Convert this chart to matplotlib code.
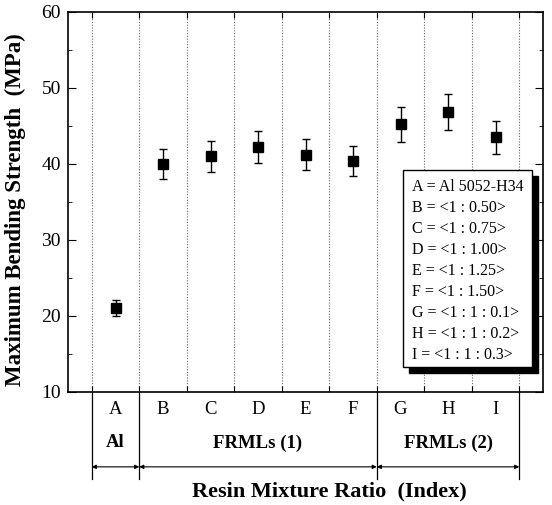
import numpy as np
import matplotlib
matplotlib.use("Agg")
import matplotlib.pyplot as plt
from matplotlib.patches import Rectangle
from matplotlib.transforms import blended_transform_factory

plt.rcParams['font.family'] = ['Liberation Serif', 'DejaVu Serif']

# data
labels = ['A', 'B', 'C', 'D', 'E', 'F', 'G', 'H', 'I']
strength = [21.1, 40.0, 41.0, 42.2, 41.2, 40.4, 45.2, 46.8, 43.5]
err = [1.05, 2.0, 2.05, 2.1, 2.05, 2.0, 2.25, 2.35, 2.15]

groups = ['Al', 'FRMLs (1)', 'FRMLs (2)']
group_edges = [(0.5, 1.5), (1.5, 6.5), (6.5, 9.5)]

legend_lines = ['A = Al 5052-H34', 'B = <1 : 0.50>', 'C = <1 : 0.75>',
                'D = <1 : 1.00>', 'E = <1 : 1.25>', 'F = <1 : 1.50>',
                'G = <1 : 1 : 0.1>', 'H = <1 : 1 : 0.2>', 'I = <1 : 1 : 0.3>']

x = np.arange(1, len(labels) + 1)

fig = plt.figure(figsize=(5.52, 5.05), dpi=100)
ax = fig.add_axes([68/552, 1 - 392/505, 475/552, 380/505])

# dotted separators between samples
for b in np.arange(0.5, 10, 1.0):
    ax.axvline(b, color='0.4', ls=(0, (1, 1.5)), lw=0.8, zorder=1)

ax.errorbar(x, strength, yerr=err, fmt='s', color='black', ms=6.5,
            capsize=3, elinewidth=1, capthick=1, zorder=3)

ax.set_xlim(0, 10)
ax.set_ylim(10, 60)
ax.set_yticks(np.arange(10, 61, 10))
ax.set_yticks(np.arange(15, 60, 10), minor=True)
ax.set_xticks(np.arange(0.5, 10, 1.0))
ax.set_xticklabels([])
ax.tick_params(axis='both', which='both', direction='in', top=True, right=True)
ax.tick_params(axis='y', which='major', length=6, labelsize=14, pad=5)
ax.tick_params(axis='y', which='minor', length=3)
ax.tick_params(axis='x', which='major', length=4)
for s in ax.spines.values():
    s.set_linewidth(1.2)

ax.set_ylabel('Maximum Bending Strength  (MPa)', fontsize=16.5, fontweight='bold')
ax.yaxis.set_label_coords(-0.088, 0.48)

# table under the axis
tr = blended_transform_factory(ax.transData, ax.transAxes)
for b in [0.5, 1.5, 6.5, 9.5]:
    ax.plot([b, b], [0, -0.23], transform=tr, color='black', lw=0.9, clip_on=False)
for xi, lab in zip(x, labels):
    ax.text(xi, -0.047, lab, transform=tr, ha='center', va='center', fontsize=13.5)
for (a, b), g in zip(group_edges, groups):
    ax.text((a + b) / 2, -0.134, g, transform=tr, ha='center', va='center',
            fontsize=13.5, fontweight='bold')
    ax.annotate('', xy=(a, -0.197), xytext=(b, -0.197), xycoords=tr, textcoords=tr,
                arrowprops=dict(arrowstyle='<|-|>', color='black', lw=0.8,
                                mutation_scale=6, shrinkA=0, shrinkB=0),
                annotation_clip=False)
ax.text((329 - 68) / 475, -0.262, 'Resin Mixture Ratio  (Index)', transform=ax.transAxes,
        ha='center', va='center', fontsize=16, fontweight='bold')

# legend box with shadow
bx0, bx1 = (403 - 68) / 475, (532 - 68) / 475
by1, by0 = (392 - 170) / 380, (392 - 367) / 380
dx, dy = 6 / 475, 6 / 380
ax.add_patch(Rectangle((bx0 + dx, by0 - dy), bx1 - bx0, by1 - by0, transform=ax.transAxes,
                       facecolor='black', edgecolor='black', zorder=5))
ax.add_patch(Rectangle((bx0, by0), bx1 - bx0, by1 - by0, transform=ax.transAxes,
                       facecolor='white', edgecolor='black', lw=1, zorder=6))
for k, line in enumerate(legend_lines):
    ax.text((412 - 68) / 475, (392 - 187 - 21 * k) / 380, line, transform=ax.transAxes,
            ha='left', va='center', fontsize=11.5, zorder=7)

fig.savefig('out.png', dpi=100)
